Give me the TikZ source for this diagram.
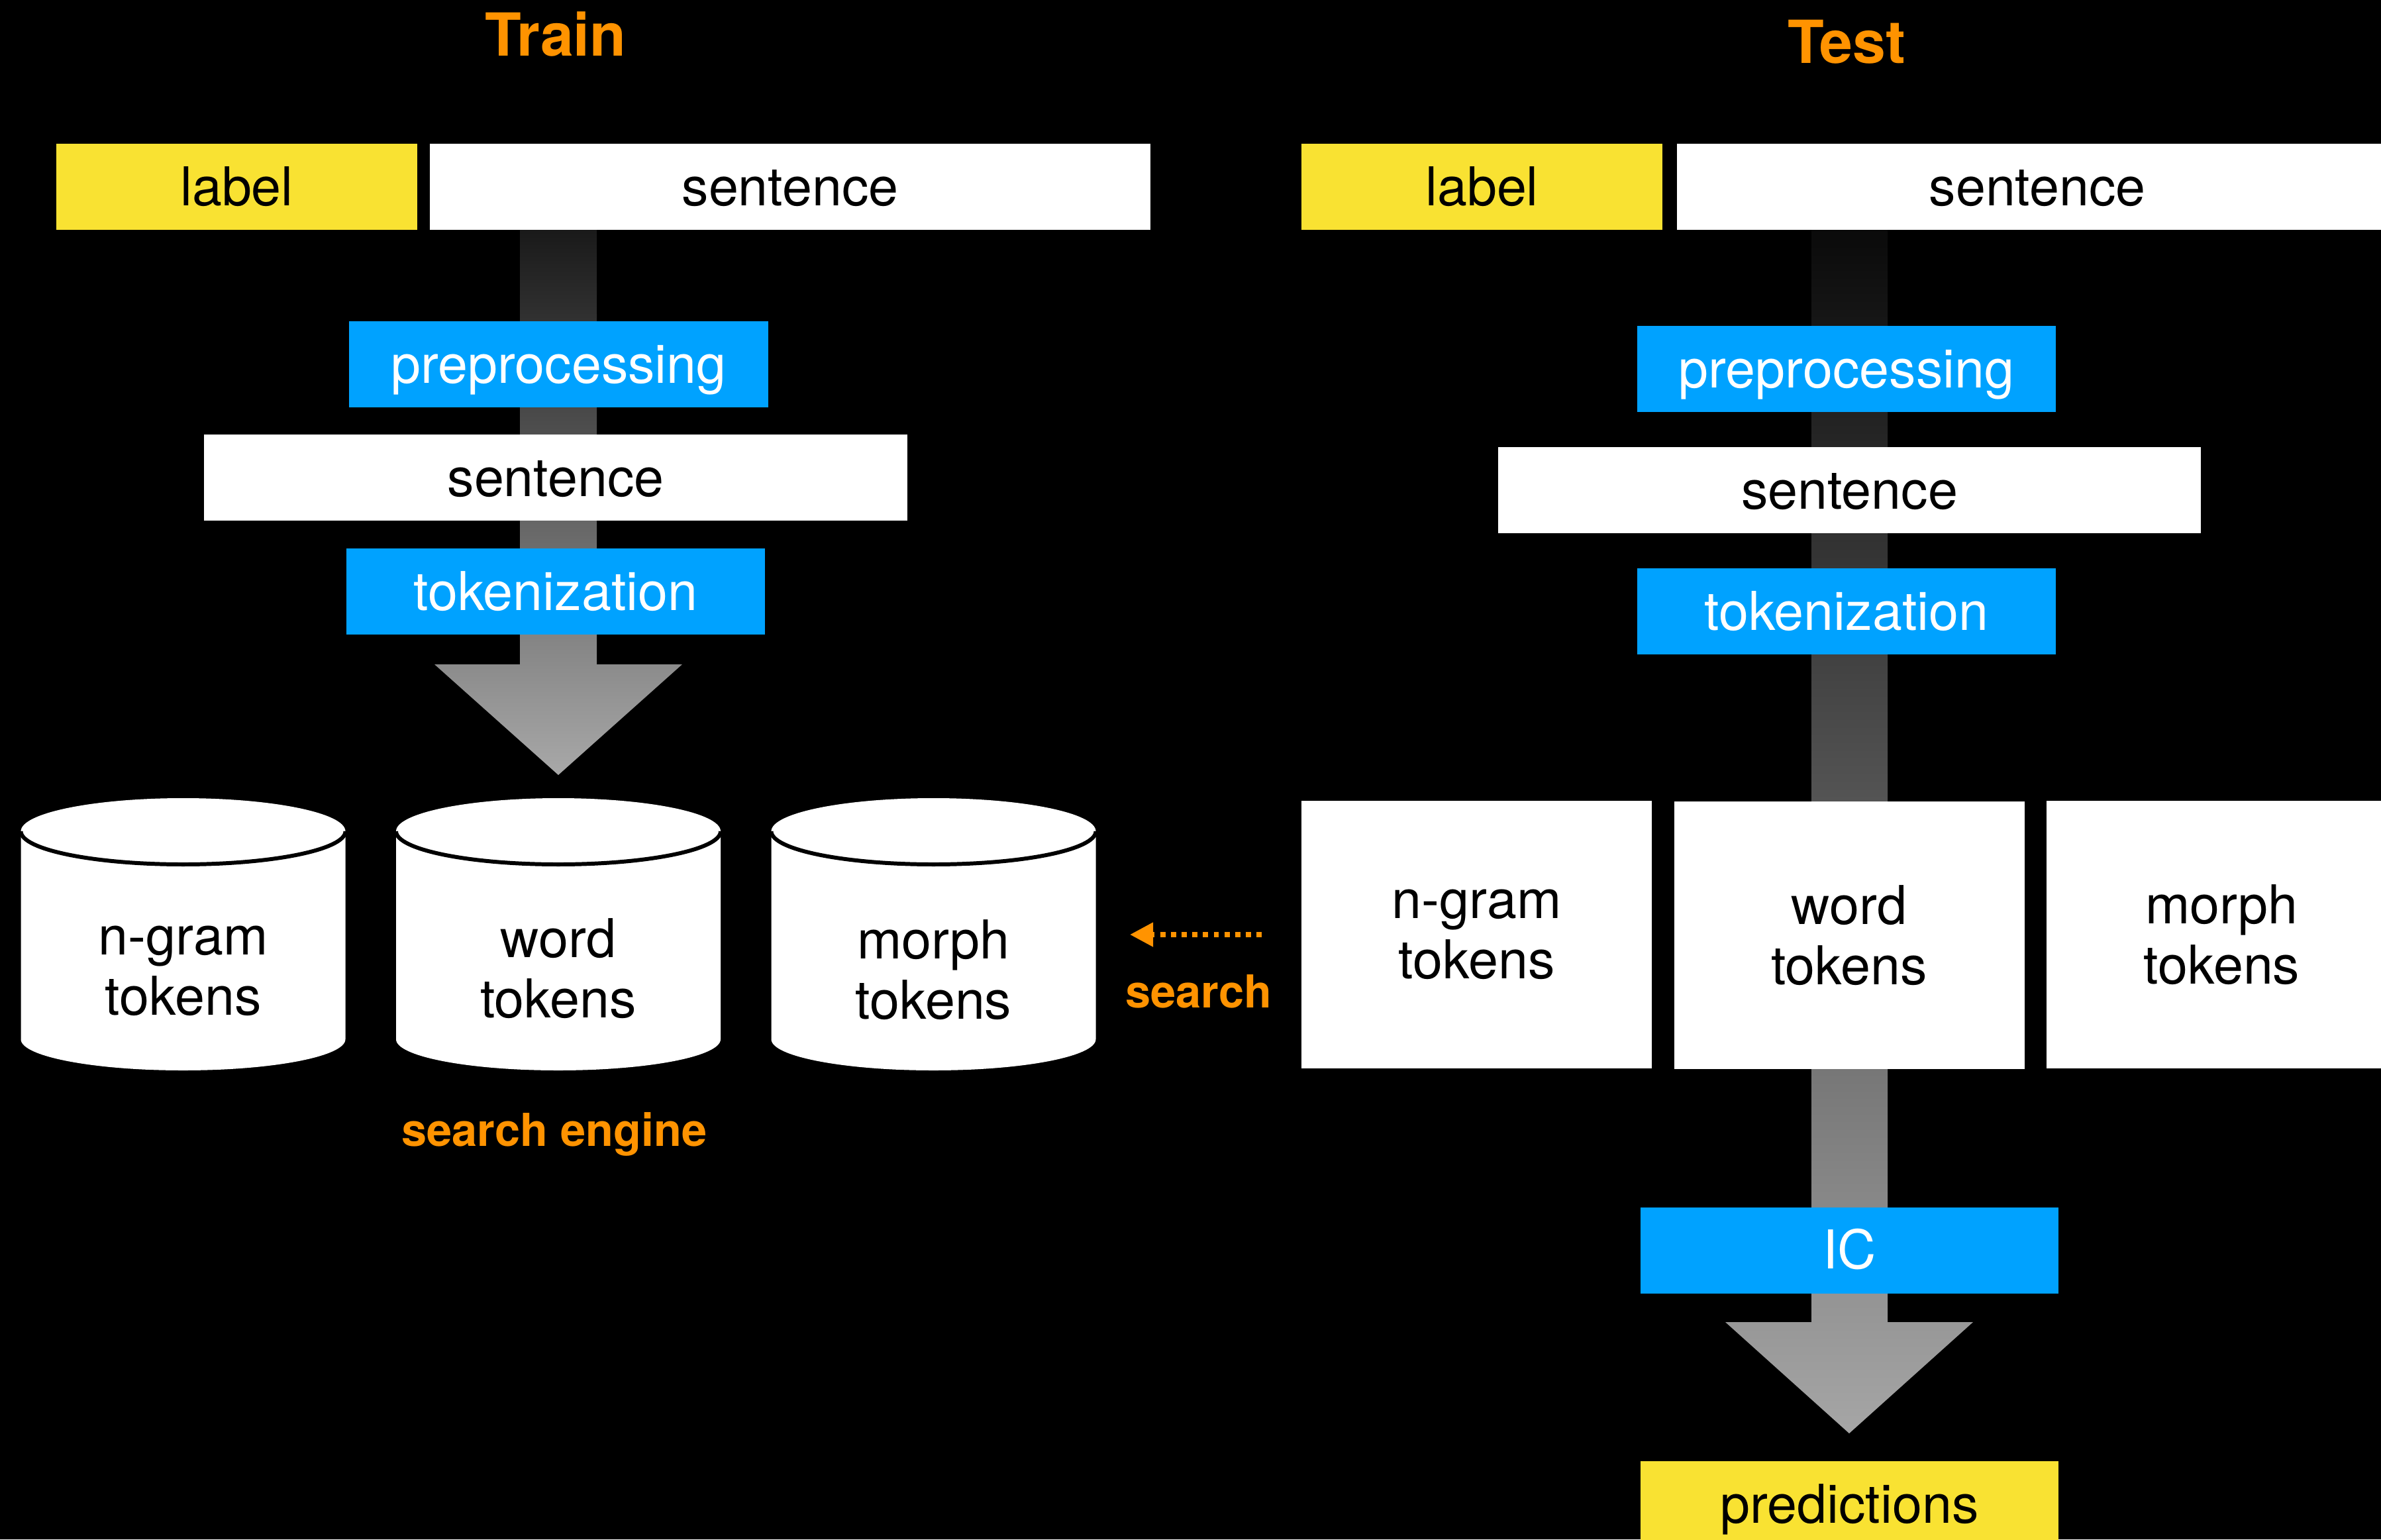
\documentclass[tikz,border=0pt]{standalone}
\usepackage{fontspec}
\setmainfont{TeX Gyre Heros}
\usetikzlibrary{arrows.meta}

\definecolor{labelyellow}{HTML}{F9E232}
\definecolor{stepblue}{HTML}{00A2FF}
\definecolor{noteorange}{HTML}{FF9300}

\tikzset{
  box/.style={rectangle, inner sep=0pt, minimum height=1.3cm,
    font=\fontsize{23}{25}\selectfont, text height=20pt, text depth=4pt},
  labelbox/.style={box, fill=labelyellow, text=black},
  textbox/.style={box, fill=white, text=black},
  stepbox/.style={box, fill=stepblue, text=white},
  tokenbox/.style={rectangle, inner sep=0pt, fill=white, text=black,
    minimum width=5.29cm, minimum height=4.04cm, align=center,
    font=\fontsize{23}{26}\selectfont},
  dbtext/.style={align=center, text=black, inner sep=0pt,
    font=\fontsize{23}{26}\selectfont},
  heading/.style={text=noteorange, inner sep=0pt, font=\bfseries\fontsize{25.5}{30}\selectfont},
  note/.style={text=noteorange, inner sep=0pt, font=\bfseries\fontsize{19.5}{23}\selectfont}
}

\begin{document}
\begin{tikzpicture}
        \path[use as bounding box] (0,0) rectangle (35.95,-23.24);
        \clip (0,0) rectangle (35.95,-23.24);
        \fill[black] (0,0) rectangle (35.95,-23.24);

        % big grey arrows behind the boxes
        \shade[top color=black!90, bottom color=black!34] (7.85,-3.47) -- (7.85,-10.03) -- (6.56,-10.03) -- (8.43,-11.70) -- (10.30,-10.03) -- (9.01,-10.03) -- (9.01,-3.47) -- cycle;
        \shade[top color=black!96, middle color=black!61, bottom color=black!35] (27.35,-3.47) -- (27.35,-19.96) -- (26.05,-19.96) -- (27.92,-21.64) -- (29.79,-19.96) -- (28.50,-19.96) -- (28.50,-3.47) -- cycle;

        % train side
        \node[heading] (traintitle) at (8.39,-0.52) {Train};
        \node[labelbox,minimum width=5.45cm] (trainlabel) at (3.575,-2.82) {label};
        \node[textbox,minimum width=10.88cm] (trainsent) at (11.93,-2.82) {sentence};
        \node[stepbox,minimum width=6.33cm] (trainprep) at (8.435,-5.50) {preprocessing};
        \node[textbox,minimum width=10.62cm] (trainsent2) at (8.39,-7.21) {sentence};
        \node[stepbox,minimum width=6.32cm] (traintok) at (8.39,-8.93) {tokenization};

        % search engine cylinders
        \foreach \cx in {2.765,8.43,14.095} {
            \fill[white] (\cx-2.45,-12.55) -- (\cx-2.45,-15.69) arc[start angle=180,end angle=360,x radius=2.45,y radius=0.47] -- (\cx+2.45,-12.55) arc[start angle=0,end angle=180,x radius=2.45,y radius=0.5] -- cycle;
            \draw[black,line width=1.7pt] (\cx-2.45,-12.55) arc[start angle=180,end angle=360,x radius=2.45,y radius=0.5];
        }
        \node[dbtext] (ngramdb) at (2.765,-14.66) {n-gram\\tokens};
        \node[dbtext] (worddb) at (8.43,-14.62) {word\\tokens};
        \node[dbtext] (morphdb) at (14.095,-14.64) {morph\\tokens};
        \node[note] (enginenote) at (8.37,-17.12) {search engine};

        % test side
        \node[heading] (testtitle) at (27.88,-0.63) {Test};
        \node[labelbox,minimum width=5.45cm] (testlabel) at (22.375,-2.82) {label};
        \node[textbox,minimum width=10.88cm] (testsent) at (30.76,-2.82) {sentence};
        \node[stepbox,minimum width=6.32cm] (testprep) at (27.88,-5.57) {preprocessing};
        \node[textbox,minimum width=10.61cm] (testsent2) at (27.925,-7.40) {sentence};
        \node[stepbox,minimum width=6.32cm] (testtok) at (27.88,-9.23) {tokenization};

        \node[tokenbox] (ngramtok) at (22.295,-14.11) {n-gram\\tokens};
        \node[tokenbox] (wordtok) at (27.92,-14.12) {word\\tokens};
        \node[tokenbox] (morphtok) at (33.545,-14.11) {morph\\tokens};

        \node[stepbox,minimum width=6.31cm] (ic) at (27.925,-18.875) {IC};
        \node[labelbox,minimum width=6.31cm] (preds) at (27.925,-22.71) {predictions};

        % search link
        \coordinate (searchtail) at (19.05,-14.11);
        \coordinate (searchhead) at (17.06,-14.11);
        \draw[noteorange,line width=2.2pt,dash pattern=on 2.2pt off 2.4pt,-{Triangle[length=10pt,width=10pt]}] (searchtail) -- (searchhead);
        \node[note] (searchnote) at (18.10,-14.97) {search};
\end{tikzpicture}
\end{document}
